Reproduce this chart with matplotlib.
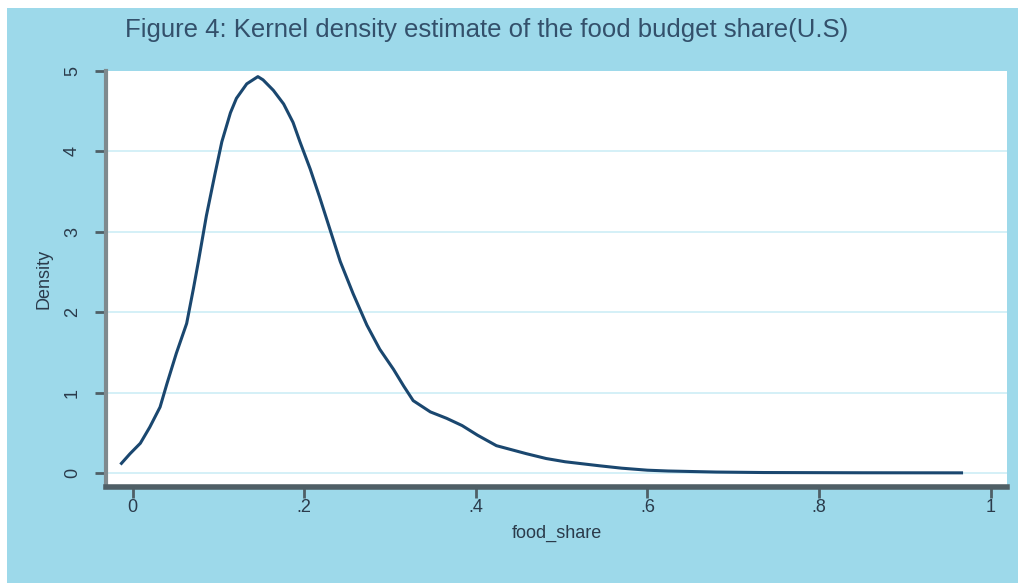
import matplotlib
matplotlib.use("Agg")
import matplotlib.pyplot as plt
from matplotlib.patches import Rectangle
from matplotlib import font_manager

# ---- data ----
food_share = [-0.013, -0.003, 0.009, 0.020, 0.032, 0.040, 0.051, 0.063, 0.071, 0.077,
              0.086, 0.096, 0.104, 0.114, 0.121, 0.133, 0.146, 0.152, 0.164, 0.176,
              0.187, 0.195, 0.207, 0.218, 0.230, 0.242, 0.257, 0.273, 0.288, 0.304,
              0.316, 0.327, 0.347, 0.366, 0.384, 0.402, 0.424, 0.459, 0.482, 0.504,
              0.544, 0.570, 0.600, 0.624, 0.680, 0.735, 0.850, 0.966]
density = [0.12, 0.24, 0.37, 0.57, 0.82, 1.11, 1.49, 1.86, 2.30, 2.65,
           3.20, 3.72, 4.12, 4.48, 4.66, 4.84, 4.93, 4.89, 4.76, 4.59,
           4.36, 4.12, 3.78, 3.43, 3.03, 2.63, 2.23, 1.84, 1.54, 1.29,
           1.08, 0.90, 0.76, 0.68, 0.59, 0.47, 0.34, 0.24, 0.18, 0.14,
           0.09, 0.06, 0.035, 0.025, 0.012, 0.006, 0.003, 0.002]
x_ticks = [0, 0.2, 0.4, 0.6, 0.8, 1.0]
x_tick_labels = ["0", ".2", ".4", ".6", ".8", "1"]
y_ticks = [0, 1, 2, 3, 4, 5]
y_tick_labels = ["0", "1", "2", "3", "4", "5"]
title_text = "Figure 4: Kernel density estimate of the food budget share(U.S)"
x_label = "food_share"
y_label = "Density"

names = {f.name for f in font_manager.fontManager.ttflist}
narrow = "Liberation Sans Narrow" if "Liberation Sans Narrow" in names else "Liberation Sans"
plt.rcParams['font.family'] = [narrow, 'DejaVu Sans']

BG = "#9dd9ea"
NAVY = "#1a476f"
TXT = "#2b3b4b"

fig = plt.figure(figsize=(10.18, 5.83), dpi=100)
fig.patch.set_facecolor(BG)
# thin white border on top and left
fig.patches.append(Rectangle((0, 1 - 8 / 583), 1, 8 / 583, transform=fig.transFigure,
                             facecolor="white", edgecolor="none", zorder=0))
fig.patches.append(Rectangle((0, 0), 7 / 1018, 1, transform=fig.transFigure,
                             facecolor="white", edgecolor="none", zorder=0))

ax = fig.add_axes([106 / 1018, 1 - 487 / 583, (1007 - 106) / 1018, (487 - 71) / 583])
ax.set_facecolor("white")
ax.set_xlim(-0.031, 1.019)
ax.set_ylim(-0.174, 4.988)

for yv in y_ticks[:-1]:
    ax.axhline(yv, color="#cdeef6", lw=1.2, zorder=1)

ax.plot(food_share, density, color=NAVY, lw=2.2, zorder=3)

ax.set_xticks(x_ticks)
ax.set_xticklabels(x_tick_labels)
ax.set_yticks(y_ticks)
ax.set_yticklabels(y_tick_labels, rotation=90, va="center")

ax.tick_params(axis="both", direction="out", length=8, width=2, color="#4f5f66",
               labelsize=13, labelcolor=TXT)
ax.tick_params(axis="x", pad=1)
ax.tick_params(axis="y", pad=10)

for s in ["top", "right"]:
    ax.spines[s].set_visible(False)
ax.spines["left"].set_color("#7f8a8e")
ax.spines["left"].set_linewidth(3)
ax.spines["bottom"].set_color("#4f5f66")
ax.spines["bottom"].set_linewidth(4)

ax.set_xlabel(x_label, fontsize=13, color=TXT, labelpad=6)
ax.set_ylabel(y_label, fontsize=13, color=TXT, labelpad=8)

fig.text(125 / 1018, 1 - 30 / 583, title_text, fontsize=18.5, color="#33506b",
         ha="left", va="center")

fig.savefig("out.png", dpi=100, facecolor=fig.get_facecolor())
